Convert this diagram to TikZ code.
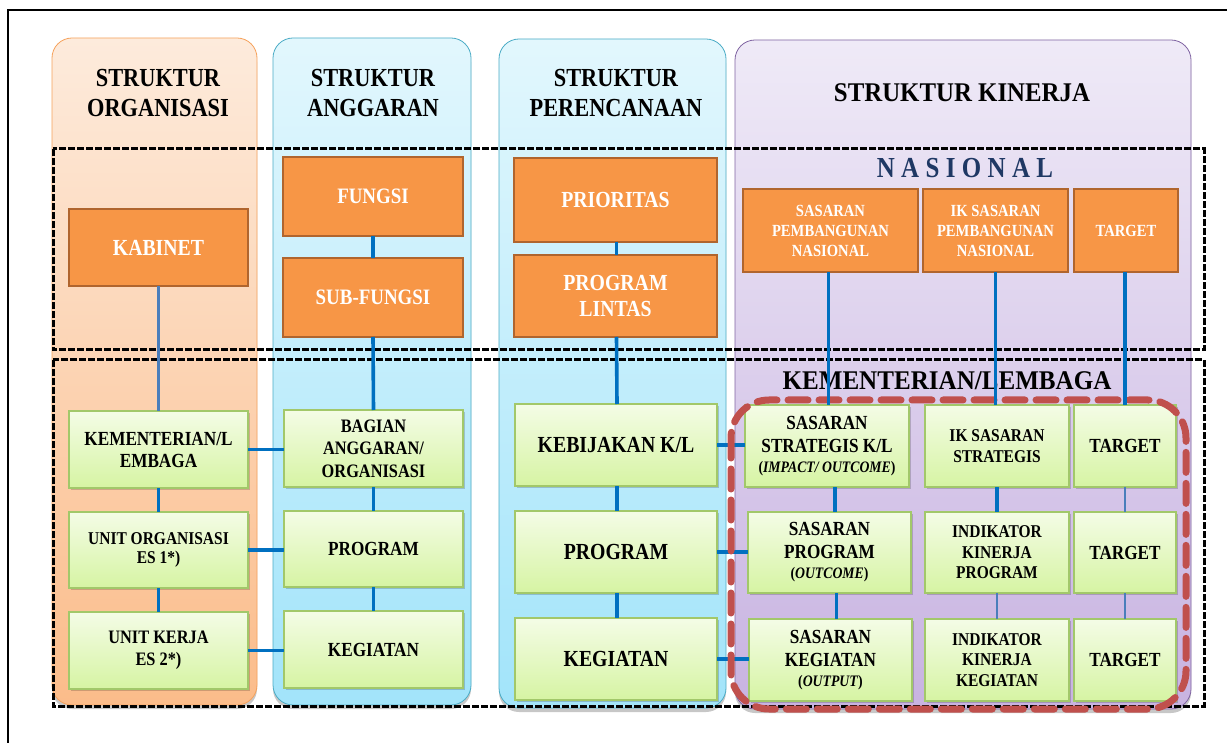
\documentclass[tikz,border=0pt]{standalone}
\usepackage{fontspec}
\setmainfont{Liberation Serif}[FakeStretch=0.86]
\usetikzlibrary{shadows}
\definecolor{orfill}{HTML}{F79646}
\definecolor{orline}{HTML}{B0652E}
\definecolor{gtop}{HTML}{F4FCE6}
\definecolor{gbot}{HTML}{D6F4A3}
\definecolor{gline}{HTML}{A2C86A}
\definecolor{c1top}{HTML}{FDEBDC}
\definecolor{c1bot}{HTML}{FBBC8A}
\definecolor{c1line}{HTML}{F6A25C}
\definecolor{c2top}{HTML}{E2F7FD}
\definecolor{c2bot}{HTML}{A2E4FA}
\definecolor{c2line}{HTML}{4BACC6}
\definecolor{c4top}{HTML}{EFEAF7}
\definecolor{c4bot}{HTML}{C8B3E1}
\definecolor{c4line}{HTML}{8064A2}
\definecolor{cblue}{HTML}{0070C0}
\definecolor{csteel}{HTML}{4A7EBB}
\definecolor{nasblue}{HTML}{1F3864}
\definecolor{redd}{HTML}{C0504D}
\newcommand\fsz[2]{\fontsize{#1}{#2}\selectfont}
\newcommand\bx[7]{\node[#2,minimum width={((#5)-(#3))*1pt},minimum height={((#6)-(#4))*1pt}] (#1) at ({((#3)+(#5))/2},{((#4)+(#6))/2}) {#7};}
\begin{document}
\begin{tikzpicture}[x=1pt,y=-1pt,
  colbox/.style={rounded corners=20pt,line width=0.8pt,drop shadow={shadow xshift=0pt,shadow yshift=-4pt,opacity=0.22,fill=black}},
  obox/.style={draw=orline,fill=orfill,line width=2.6pt,text=white,align=center,inner sep=0pt,outer sep=0pt},
  gbox/.style={draw=gline,top color=gtop,bottom color=gbot,line width=1.2pt,align=center,inner sep=0pt,outer sep=0pt,drop shadow={shadow xshift=1.5pt,shadow yshift=-2pt,opacity=0.18,fill=black}},
  hdr/.style={anchor=base,inner sep=0pt,font=\bfseries\fsz{26}{30}},
  zone/.style={draw=black,line width=3pt,dash pattern=on 7pt off 2pt},
  conn/.style={draw=cblue,line width=3.6pt},
  connb/.style={draw=csteel,line width=2.6pt},
  redzone/.style={draw=redd,line width=7pt,rounded corners=38pt,dash pattern=on 20pt off 11pt,line cap=round}
]
\useasboundingbox (0,0) rectangle (1227,743);
\fill[white] (0,0) rectangle (1227,743);
% page frame
\draw[line width=1.2pt] (8,743) -- (8,10) -- (1227,10);
% columns
\path[colbox,draw=c1line,top color=c1top,bottom color=c1bot] (52,38) rectangle (257,705);
\path[colbox,draw=c2line,top color=c2top,bottom color=c2bot] (273,38) rectangle (471,705);
\path[colbox,draw=c2line,top color=c2top,bottom color=c2bot] (499,39) rectangle (726,708);
\path[colbox,draw=c4line,top color=c4top,bottom color=c4bot] (735,40) rectangle (1191,709);
% zones
\draw[zone] (53,149) rectangle (1204,350);
\draw[zone] (53,360) rectangle (1204,706);
% headers
\node[hdr] (h1a) at (158,86.5) {STRUKTUR};
\node[hdr] (h1b) at (158,116.5) {ORGANISASI};
\node[hdr] (h2a) at (373,86.5) {STRUKTUR};
\node[hdr] (h2b) at (373,116.5) {ANGGARAN};
\node[hdr] (h3a) at (616,86.5) {STRUKTUR};
\node[hdr] (h3b) at (616,116.5) {PERENCANAAN};
\node[hdr,font=\bfseries\fsz{27}{30},xscale=1.07] (h4) at (962,101.5) {STRUKTUR KINERJA};
\node[anchor=base,inner sep=0pt,text=nasblue,font=\bfseries\fsz{29}{32}\addfontfeature{LetterSpace=22}] (nas) at (965,178) {NASIONAL};
\node[anchor=base,inner sep=0pt,font=\bfseries\fsz{27}{30},xscale=1.08] (kl) at (947,389) {KEMENTERIAN/LEMBAGA};
% orange boxes
\bx{kab}{obox,font=\bfseries\fsz{23}{26}}{69}{209}{248}{286}{KABINET}
\bx{fun}{obox,font=\bfseries\fsz{22}{25}}{283}{157}{463}{236}{FUNGSI}
\bx{subf}{obox,font=\bfseries\fsz{22}{25}}{283}{258}{463}{337}{SUB-FUNGSI}
\bx{prio}{obox,font=\bfseries\fsz{23}{26}}{514}{158}{717}{242}{PRIORITAS}
\bx{plin}{obox,font=\bfseries\fsz{23}{25.5}}{514}{255}{717}{337}{PROGRAM\\LINTAS}
\bx{np}{obox,font=\bfseries\fsz{17}{20}}{743}{189}{918}{272}{SASARAN\\PEMBANGUNAN\\NASIONAL}
\bx{ni}{obox,font=\bfseries\fsz{17}{20}}{923}{189}{1068}{272}{IK SASARAN\\PEMBANGUNAN\\NASIONAL}
\bx{nt}{obox,font=\bfseries\fsz{17}{20}}{1074}{189}{1178}{272}{TARGET}
% green boxes col 1
\bx{kem}{gbox,font=\bfseries\fsz{20}{22}}{69}{411}{248}{488}{KEMENTERIAN/L\\EMBAGA}
\bx{uo}{gbox,font=\bfseries\fsz{18}{19.5}}{69}{512}{248}{588}{UNIT ORGANISASI\\ES 1*)}
\bx{uk}{gbox,font=\bfseries\fsz{19}{22}}{69}{612}{248}{689}{UNIT KERJA\\ES 2*)}
% col 2
\bx{bag}{gbox,font=\bfseries\fsz{19}{22.5}}{284}{410}{463}{487}{BAGIAN\\ANGGARAN/\\ORGANISASI}
\bx{pr2}{gbox,font=\bfseries\fsz{20}{22}}{284}{511}{463}{587}{PROGRAM}
\bx{kg2}{gbox,font=\bfseries\fsz{20}{22}}{284}{611}{463}{688}{KEGIATAN}
% col 3
\bx{keb}{gbox,font=\bfseries\fsz{23}{26}}{515}{404}{717}{486}{KEBIJAKAN K/L}
\bx{pr3}{gbox,font=\bfseries\fsz{23}{26}}{515}{511}{717}{593}{PROGRAM}
\bx{kg3}{gbox,font=\bfseries\fsz{23}{26}}{515}{618}{717}{700}{KEGIATAN}
% col 4
\bx{s1}{gbox,font=\bfseries\fsz{20}{23}}{745}{405}{909}{487}{SASARAN\\STRATEGIS K/L\\[-3pt]{\fsz{16}{18}(\textit{IMPACT/ OUTCOME})}}
\bx{i1}{gbox,font=\bfseries\fsz{18}{20.5}}{925}{405}{1069}{487}{IK SASARAN\\STRATEGIS}
\bx{t1}{gbox,font=\bfseries\fsz{20}{22}}{1074}{405}{1176}{487}{TARGET}
\bx{s2}{gbox,font=\bfseries\fsz{20}{23}}{748}{512}{911}{593}{SASARAN\\PROGRAM\\[-3pt]{\fsz{16}{18}(\textit{OUTCOME})}}
\bx{i2}{gbox,font=\bfseries\fsz{18}{20.5}}{925}{512}{1069}{593}{INDIKATOR\\KINERJA\\PROGRAM}
\bx{t2}{gbox,font=\bfseries\fsz{20}{22}}{1074}{512}{1176}{593}{TARGET}
\bx{s3}{gbox,font=\bfseries\fsz{20}{23}}{749}{619}{912}{701}{SASARAN\\KEGIATAN\\[-3pt]{\fsz{16}{18}(\textit{OUTPUT})}}
\bx{i3}{gbox,font=\bfseries\fsz{18}{20.5}}{925}{619}{1069}{701}{INDIKATOR\\KINERJA\\KEGIATAN}
\bx{t3}{gbox,font=\bfseries\fsz{20}{22}}{1074}{619}{1176}{701}{TARGET}
% connectors col 1-3
\draw[connb] (kab.south) -- (kem.north);
\draw[conn] (kem.south) -- (uo.north);
\draw[conn] (uo.south) -- (uk.north);
\draw[conn] (fun.south) -- (subf.north);
\draw[conn] (subf.south) -- (bag.north);
\draw[conn] (bag.south) -- (pr2.north);
\draw[conn] (pr2.south) -- (kg2.north);
\draw[conn] (kem.east) -- (kem.east -| bag.west);
\draw[conn] (uo.east) -- (uo.east -| pr2.west);
\draw[conn] (uk.east) -- (uk.east -| kg2.west);
\draw[conn] ([xshift=1pt]prio.south) -- ([xshift=1pt]plin.north);
\draw[conn] ([xshift=1pt]plin.south) -- ([xshift=1pt]keb.north);
\draw[conn] ([xshift=1pt]keb.south) -- ([xshift=1pt]pr3.north);
\draw[conn] ([xshift=1pt]pr3.south) -- ([xshift=1pt]kg3.north);
\draw[conn] (keb.east) -- (keb.east -| s1.west);
\draw[conn] (pr3.east) -- (pr3.east -| s2.west);
\draw[conn] (kg3.east) -- (kg3.east -| s3.west);
% col 4 verticals
\draw[conn] ([xshift=8pt]s1.south) -- ([xshift=8pt]s1.south |- s2.north);
\draw[conn] ([xshift=7pt]s2.south) -- ([xshift=7pt]s2.south |- s3.north);
\draw[conn] (i1.south) -- (i2.north);
\draw[connb] (i2.south) -- (i3.north);
\draw[connb] (t1.south) -- (t2.north);
\draw[connb] (t2.south) -- (t3.north);
% red zone
\draw[redzone] (731,400) rectangle (1186,709);
% national links
\draw[conn] ([xshift=-2pt]np.south) -- ([xshift=-2pt]np.south |- s1.north);
\draw[conn] (ni.south) -- (ni.south |- i1.north);
\draw[conn] ([xshift=-1pt]nt.south) -- ([xshift=-1pt]nt.south |- t1.north);
\end{tikzpicture}
\end{document}
